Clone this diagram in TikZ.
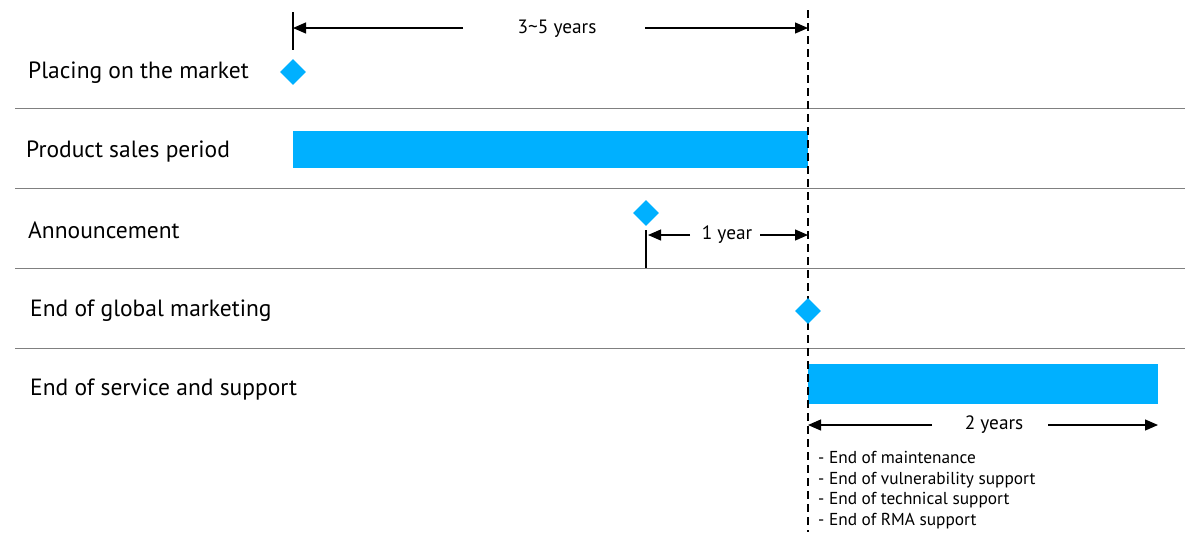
\documentclass[tikz,border=0pt]{standalone}
\usepackage{fontspec}
\setmainfont{PT Sans}
\usetikzlibrary{arrows.meta,shapes.geometric}
\definecolor{barblue}{HTML}{00B0FF}
\definecolor{sepgray}{HTML}{808080}
\tikzset{
  sep/.style={draw=sepgray,line width=1pt},
  rowlabel/.style={anchor=west,inner sep=0pt,font=\fontsize{23.5}{28}\selectfont},
  milestone/.style={diamond,fill=barblue,minimum width=26pt,minimum height=26pt,inner sep=0pt},
  bar/.style={fill=barblue,draw=none},
  dimline/.style={line width=1.2pt,-{Triangle[length=13pt,width=11pt]}},
  tick/.style={line width=1.2pt},
  dimlabel/.style={inner sep=0pt,font=\fontsize{19.3}{23}\selectfont},
  listtext/.style={anchor=west,inner sep=0pt,font=\fontsize{17.3}{20.4}\selectfont,align=left},
  vdash/.style={line width=1.2pt,dash pattern=on 8pt off 5pt}
}
\begin{document}
\begin{tikzpicture}[x=1pt,y=-1pt]
\useasboundingbox (0,0) rectangle (1200,550);
% separators
\foreach \yy [count=\i] in {108,188,268,348}{
  \draw[sep] (15,\yy) -- (1185,\yy);
}
% row labels
\node[rowlabel] (l1) at (28,72.5) {Placing on the market};
\node[rowlabel] (l2) at (26,151.5) {Product sales period};
\node[rowlabel] (l3) at (28,230.5) {Announcement};
\node[rowlabel] (l4) at (30,310.5) {End of global marketing};
\node[rowlabel] (l5) at (30,389.5) {End of service and support};
% bars
\fill[bar] (293,131) rectangle (808,168);
\fill[bar] (808,364) rectangle (1158,404);
% dashed line
\coordinate (dtop) at (808,10);
\coordinate (dbot) at (808,532);
\draw[vdash] (dtop) -- (dbot);
% milestones
\node[milestone] (m1) at (293,72) {};
\node[milestone] (m2) at (646,213) {};
\node[milestone] (m3) at (808,311) {};
% top dimension
\coordinate (t1a) at (293,12);
\coordinate (t1b) at (293,50);
\draw[tick] (t1a) -- (t1b);
\node[dimlabel] (y35) at (557,29) {3\textasciitilde5 years};
\coordinate (a1l) at (293,28);
\coordinate (a1m) at (463,28);
\coordinate (a1n) at (645,28);
\coordinate (a1r) at (808,28);
\draw[dimline] (a1m) -- (a1l);
\draw[dimline] (a1n) -- (a1r);
% 1 year
\coordinate (t2a) at (646,230);
\coordinate (t2b) at (646,268);
\draw[tick] (t2a) -- (t2b);
\node[dimlabel] (y1) at (727,235) {1 year};
\coordinate (a2l) at (648,235);
\coordinate (a2m) at (690,235);
\coordinate (a2n) at (760,235);
\coordinate (a2r) at (808,235);
\draw[dimline] (a2m) -- (a2l);
\draw[dimline] (a2n) -- (a2r);
% 2 years
\node[dimlabel] (y2) at (994,425) {2 years};
\coordinate (a3l) at (808,425);
\coordinate (a3m) at (932,425);
\coordinate (a3n) at (1048,425);
\coordinate (a3r) at (1158,425);
\draw[dimline] (a3m) -- (a3l);
\draw[dimline] (a3n) -- (a3r);
% list
\node[listtext] (lst) at (818,490) {- End of maintenance\\- End of vulnerability support\\- End of technical support\\- End of RMA support};
\end{tikzpicture}
\end{document}
